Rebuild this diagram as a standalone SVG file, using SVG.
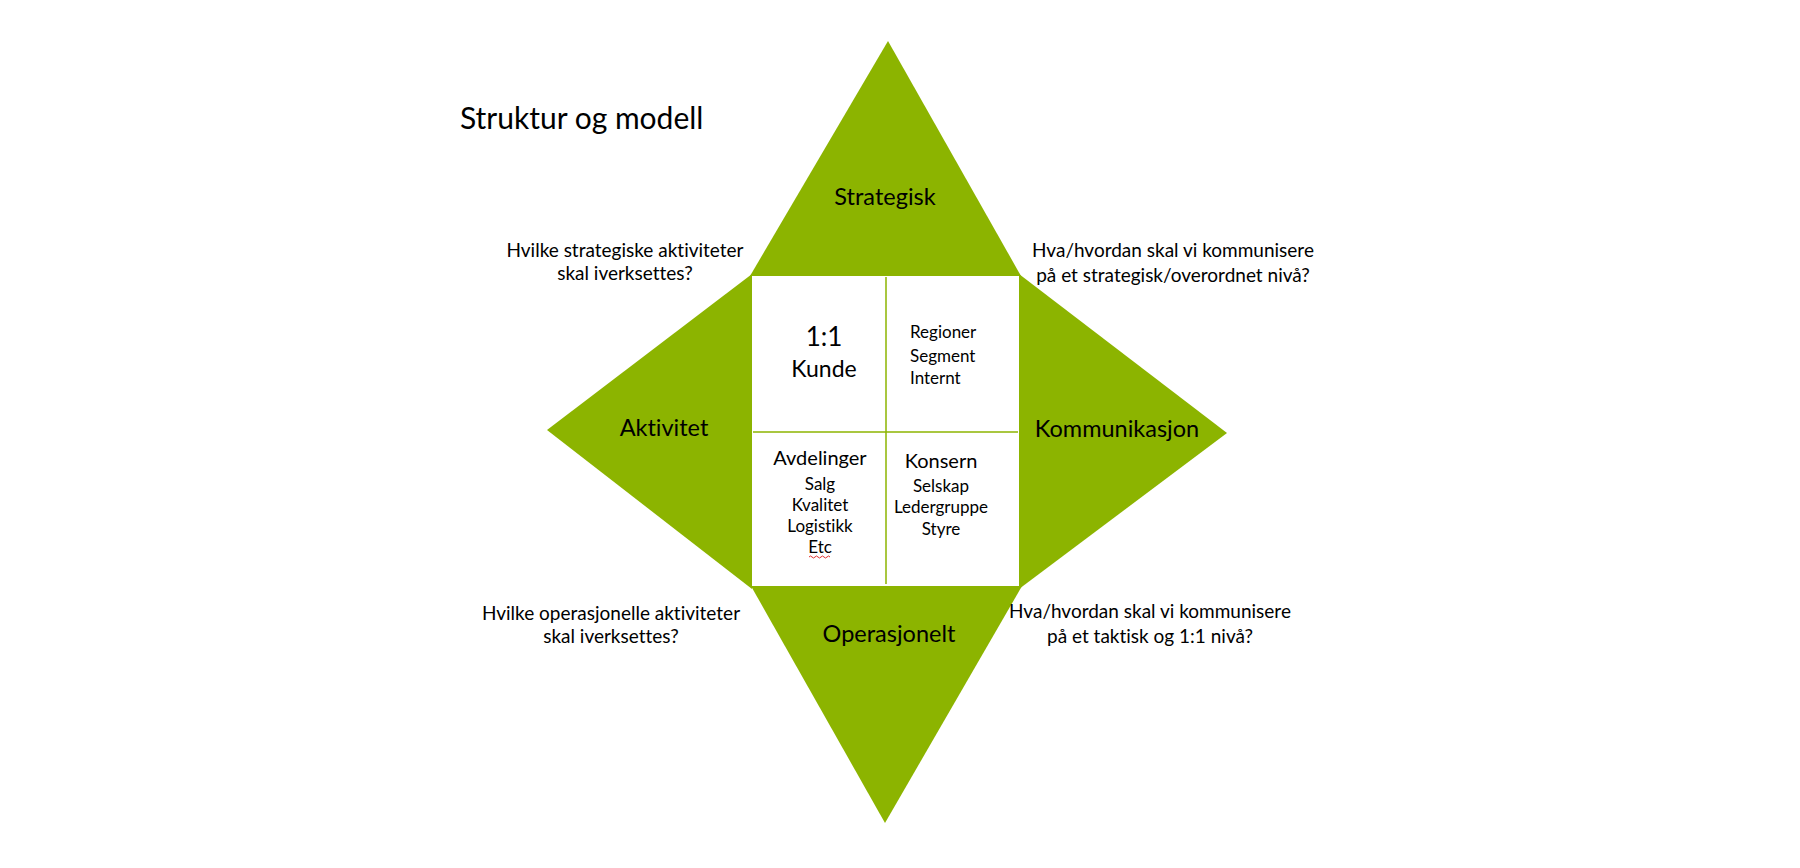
<svg xmlns="http://www.w3.org/2000/svg" width="1800" height="868" viewBox="0 0 1800 868">
<style>
.tri{fill:#8cb400}
.t{font-family:Lato,"Open Sans","Liberation Sans",sans-serif;fill:#000;font-variant-ligatures:none}
.c{text-anchor:middle}
.q{font-size:19px}
.lab{font-size:23.5px}
.sm{font-size:17px}
.div{stroke:#8cb400;stroke-width:1.5}
</style>
<rect width="1800" height="868" fill="#fff"/>
<text class="t" x="460" y="129" font-size="30">Struktur og modell</text>
<g id="strategisk">
<polygon class="tri" points="888,41 1021,276 750,276"/>
<text class="t c lab" x="885" y="205">Strategisk</text>
</g>
<g id="aktivitet">
<polygon class="tri" points="547,430 752,274 752,589"/>
<text class="t c lab" x="664" y="436">Aktivitet</text>
</g>
<g id="kommunikasjon">
<polygon class="tri" points="1227,433 1019,274 1019,589"/>
<text class="t c lab" x="1117" y="437">Kommunikasjon</text>
</g>
<g id="operasjonelt">
<polygon class="tri" points="885,823 751,586 1022,586"/>
<text class="t c lab" x="889" y="642">Operasjonelt</text>
</g>
<g id="matrise">
<rect x="753" y="277" width="265" height="307" fill="#fff"/>
<line class="div" x1="886" y1="277" x2="886" y2="584"/>
<line class="div" x1="753" y1="432" x2="1018" y2="432"/>
</g>
<g id="kunde">
<text class="t c" x="824" y="346" font-size="26">1:1</text>
<text class="t c" x="824" y="377" font-size="23">Kunde</text>
</g>
<g id="regioner">
<text class="t sm" x="910" y="338">Regioner</text>
<text class="t sm" x="910" y="362">Segment</text>
<text class="t sm" x="910" y="384">Internt</text>
</g>
<g id="avdelinger">
<text class="t c" x="820" y="465" font-size="20">Avdelinger</text>
<text class="t c sm" x="820" y="490">Salg</text>
<text class="t c sm" x="820" y="511">Kvalitet</text>
<text class="t c sm" x="820" y="532">Logistikk</text>
<text class="t c sm" x="820" y="553">Etc</text>
<path d="M809,557 q1.5,-2 3,0 t3,0 t3,0 t3,0 t3,0 t3,0 t3,0" fill="none" stroke="#e03030" stroke-width="1"/>
</g>
<g id="konsern">
<text class="t c" x="941" y="468" font-size="20">Konsern</text>
<text class="t c sm" x="941" y="492">Selskap</text>
<text class="t c sm" x="941" y="513">Ledergruppe</text>
<text class="t c sm" x="941" y="535">Styre</text>
</g>
<g id="q-strategisk-aktivitet">
<text class="t c q" x="625" y="257">Hvilke strategiske aktiviteter</text>
<text class="t c q" x="625" y="280">skal iverksettes?</text>
</g>
<g id="q-strategisk-kommunikasjon">
<text class="t c q" x="1173" y="257">Hva/hvordan skal vi kommunisere</text>
<text class="t c q" x="1173" y="282">på et strategisk/overordnet nivå?</text>
</g>
<g id="q-operasjonell-aktivitet">
<text class="t c q" x="611" y="620">Hvilke operasjonelle aktiviteter</text>
<text class="t c q" x="611" y="643">skal iverksettes?</text>
</g>
<g id="q-operasjonell-kommunikasjon">
<text class="t c q" x="1150" y="618">Hva/hvordan skal vi kommunisere</text>
<text class="t c q" x="1150" y="643">på et taktisk og 1:1 nivå?</text>
</g>
</svg>
